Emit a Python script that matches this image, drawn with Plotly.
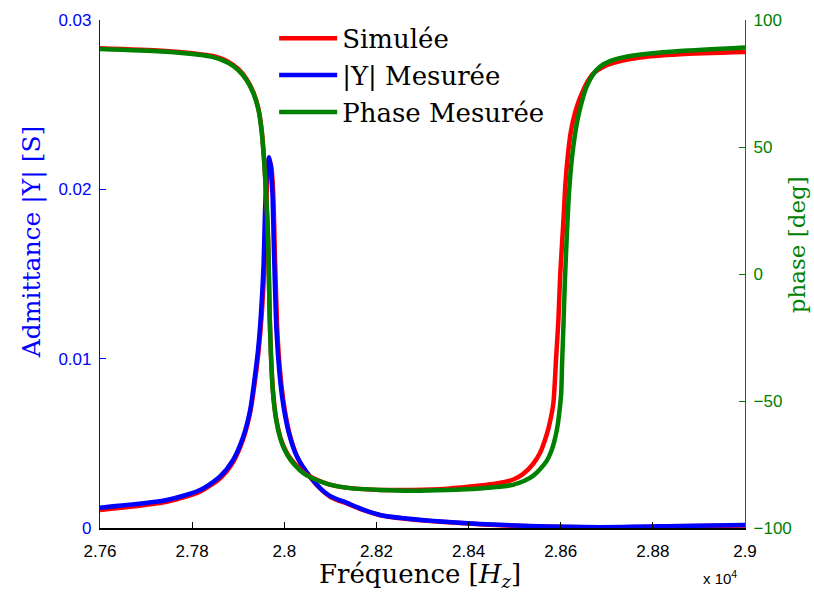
import plotly.graph_objects as go

# ---- data (frequency in Hz) ----
f_ymeas = [27600, 27745, 27817, 27860, 27889, 27911, 27926, 27935, 27943, 27949, 27955, 27958,
           27961, 27964, 27967, 27970, 27973, 27975, 27977, 27979, 27983, 27989, 27995, 28002,
           28010, 28023, 28036, 28060, 28080, 28099, 28136, 28170, 28208, 28260, 28316, 28425,
           28533, 28685, 28859, 29000]
y_meas = [0.00120, 0.00165, 0.00224, 0.00303, 0.00402, 0.00540, 0.00697, 0.00870, 0.01050, 0.01250,
          0.01550, 0.01850, 0.02050, 0.02140, 0.02190, 0.02150, 0.02050, 0.01920, 0.01700, 0.01500,
          0.01170, 0.00930, 0.00780, 0.00660, 0.00560, 0.00450, 0.00380, 0.00290, 0.00230, 0.00190,
          0.00148, 0.00110, 0.00077, 0.00057, 0.00043, 0.00024, 0.00012, 0.00005, 0.00012, 0.00018]

f_ysim = [27600, 27745, 27817, 27860, 27889, 27911, 27926, 27936, 27944, 27951, 27957, 27960,
          27963, 27966, 27969, 27972, 27975, 27977, 27979, 27981, 27985, 27991, 27997, 28004,
          28012, 28025, 28038, 28062, 28082, 28101, 28138, 28172, 28210, 28262, 28316, 28425,
          28533, 28685, 28859, 29000]
y_sim = [0.00106, 0.00155, 0.00215, 0.00292, 0.00390, 0.00527, 0.00683, 0.00860, 0.01040, 0.01260,
         0.01560, 0.01850, 0.02040, 0.02130, 0.02160, 0.02130, 0.02030, 0.01900, 0.01680, 0.01490,
         0.01160, 0.00920, 0.00770, 0.00650, 0.00550, 0.00440, 0.00370, 0.00280, 0.00222, 0.00182,
         0.00142, 0.00105, 0.00074, 0.00055, 0.00041, 0.00022, 0.00010, 0.00003, 0.00010, 0.00015]

f_pmeas = [27600, 27734, 27806, 27842, 27878, 27900, 27918, 27933, 27944, 27951, 27956, 27960,
           27964, 27966, 27968, 27971, 27975, 27982, 27991, 27999, 28012, 28034, 28049, 28071,
           28099, 28143, 28208, 28279, 28353, 28425, 28460, 28496, 28520, 28540, 28557, 28570,
           28579, 28586, 28592, 28597, 28601, 28603, 28606, 28609, 28613, 28618, 28624, 28631,
           28638, 28646, 28656, 28670, 28685, 28707, 28735, 28794, 28859, 29000]
p_meas = [88.6, 87.6, 86.5, 85.6, 83.2, 80.3, 76.4, 71.1, 64.6, 56.0, 45.0, 33.0,
          18.0, 5.0, -15.0, -32.0, -46.0, -57.0, -64.5, -68.5, -72.8, -77.3, -79.3, -81.2,
          -82.9, -84.3, -85.0, -85.3, -85.0, -84.4, -83.9, -83.0, -81.5, -79.5, -76.5, -73.5,
          -70.0, -66.0, -61.0, -54.5, -47.0, -35.0, -20.0, -3.0, 14.0, 32.0, 45.0, 55.0,
          62.0, 68.0, 73.7, 78.5, 81.6, 83.8, 85.3, 86.8, 87.8, 89.2]

f_psim = [27600, 27734, 27806, 27842, 27878, 27900, 27918, 27933, 27944, 27951, 27956, 27960,
          27964, 27966, 27968, 27971, 27975, 27982, 27991, 27999, 28012, 28034, 28049, 28071,
          28099, 28143, 28208, 28279, 28353, 28425, 28460, 28496, 28518, 28540, 28555, 28570,
          28577, 28584, 28590, 28595, 28599, 28606, 28610, 28616, 28622, 28631, 28640, 28649,
          28659, 28671, 28690, 28713, 28772, 28859, 29000]
p_sim = [88.9, 87.9, 86.8, 85.9, 83.6, 80.7, 76.8, 71.5, 65.0, 56.5, 45.5, 33.5,
         18.5, 5.5, -14.0, -31.0, -45.0, -56.5, -64.0, -68.0, -72.3, -76.8, -79.1, -81.0,
         -82.9, -84.3, -85.0, -85.0, -84.5, -83.3, -82.5, -81.0, -78.8, -74.8, -70.5, -63.0,
         -58.0, -51.0, -33.0, -18.1, 0.0, 21.3, 35.0, 47.6, 56.0, 63.4, 68.5, 72.4,
         76.0, 79.0, 81.3, 83.0, 85.2, 86.5, 87.4]

x_ticks = [27600, 27800, 28000, 28200, 28400, 28600, 28800, 29000]
x_ticktext = ["2.76", "2.78", "2.8", "2.82", "2.84", "2.86", "2.88", "2.9"]
y_ticks = [0, 0.01, 0.02, 0.03]
y_ticktext = ["0", "0.01", "0.02", "0.03"]
p_ticks = [-100, -50, 0, 50, 100]

RED, BLUE, GREEN = "#FF0000", "#0000FF", "#008000"
LW = 4.5
SERIF = "DejaVu Serif"
SANS = "Liberation Sans"
SPL = dict(shape="spline", smoothing=0.7)

fig = go.Figure()
fig.add_trace(go.Scatter(x=f_ysim, y=y_sim, mode="lines", name="Simulée", legendgroup="sim",
                         line=dict(color=RED, width=LW, **SPL)))
fig.add_trace(go.Scatter(x=f_psim, y=p_sim, mode="lines", name="Simulée", legendgroup="sim",
                         showlegend=False, yaxis="y2",
                         line=dict(color=RED, width=LW, **SPL)))
fig.add_trace(go.Scatter(x=f_ymeas, y=y_meas, mode="lines", name="|Y| Mesurée",
                         line=dict(color=BLUE, width=LW, **SPL)))
fig.add_trace(go.Scatter(x=f_pmeas, y=p_meas, mode="lines", name="Phase Mesurée", yaxis="y2",
                         line=dict(color=GREEN, width=LW, **SPL)))

fig.update_layout(
    width=814, height=596,
    margin=dict(l=100, r=69, t=20, b=68),
    paper_bgcolor="white", plot_bgcolor="white",
    showlegend=True,
    legend=dict(x=0.27, y=1.01, xanchor="left", yanchor="top", itemwidth=58,
                font=dict(family=SERIF, size=26, color="black"),
                bgcolor="rgba(255,255,255,0)", borderwidth=0, tracegroupgap=0),
    xaxis=dict(range=[27600, 29000], tickvals=x_ticks, ticktext=x_ticktext,
               ticks="inside", ticklen=6, tickcolor="black", showgrid=False, zeroline=False,
               showline=True, linecolor="black", linewidth=1.5,
               tickfont=dict(family=SANS, size=17, color="black"), ticklabelstandoff=7),
    yaxis=dict(range=[0, 0.03], tickvals=y_ticks, ticktext=y_ticktext,
               ticks="inside", ticklen=6, tickcolor=BLUE, showgrid=False, zeroline=False,
               showline=True, linecolor=BLUE, linewidth=1.2,
               tickfont=dict(family=SANS, size=17, color=BLUE), ticklabelstandoff=4),
    yaxis2=dict(range=[-100, 100], tickvals=p_ticks, overlaying="y", side="right",
                ticks="inside", ticklen=6, tickcolor=GREEN, showgrid=False, zeroline=False,
                showline=True, linecolor=GREEN, linewidth=1.2,
                tickfont=dict(family=SANS, size=17, color=GREEN), ticklabelstandoff=4),
    annotations=[
        dict(text="Admittance |Y| [S]", xref="paper", yref="paper", x=-0.105, y=0.563,
             xanchor="center", yanchor="middle",
             textangle=-90, showarrow=False, font=dict(family=SERIF, size=25, color=BLUE)),
        dict(text="phase [deg]", xref="paper", yref="paper", x=1.081, y=0.557,
             xanchor="center", yanchor="middle",
             textangle=-90, showarrow=False, font=dict(family=SERIF, size=23, color=GREEN)),
        dict(text="Fréquence [<i>H</i><sub><i>z</i></sub>]", xref="paper", yref="paper",
             x=0.496, y=-0.094, xanchor="center", yanchor="middle",
             showarrow=False, font=dict(family=SERIF, size=26, color="black")),
        dict(text="x 10<sup>4</sup>", xref="paper", yref="paper", x=0.961, y=-0.098,
             xanchor="center", yanchor="middle",
             showarrow=False, font=dict(family=SANS, size=15, color="black")),
    ],
)

fig.write_html("out.html", config={"displayModeBar": False},
               post_script="document.body.style.margin='0px';")
